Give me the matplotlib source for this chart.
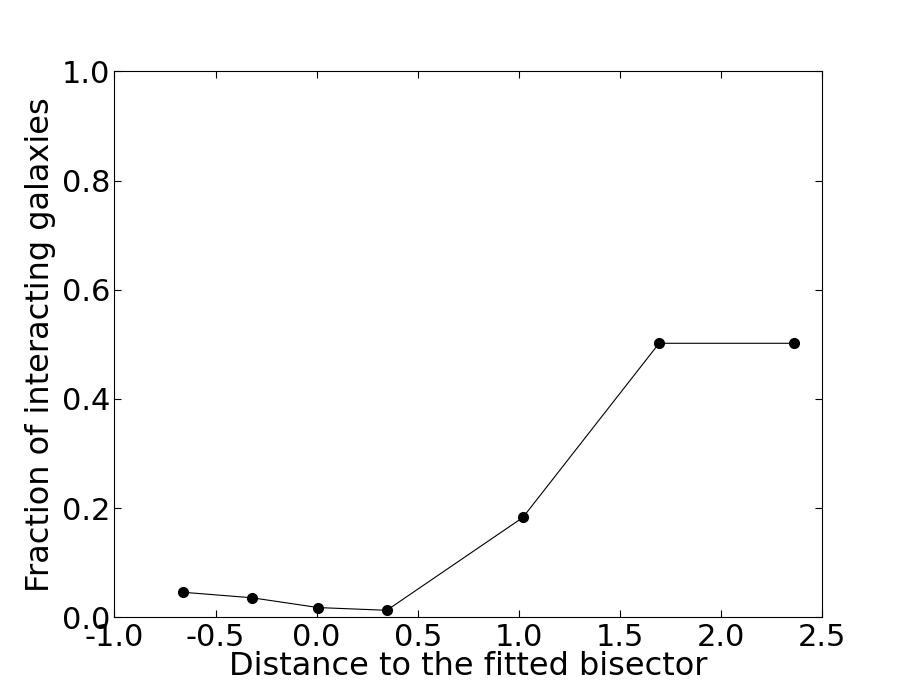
import matplotlib
matplotlib.use("Agg")
import matplotlib.pyplot as plt

distance = [-0.660, -0.321, 0.008, 0.347, 1.020, 1.694, 2.362]
fraction = [0.046, 0.036, 0.018, 0.013, 0.183, 0.502, 0.502]
xticks = [-1.0, -0.5, 0.0, 0.5, 1.0, 1.5, 2.0, 2.5]
yticks = [0.0, 0.2, 0.4, 0.6, 0.8, 1.0]

fig = plt.figure(figsize=(9.13, 6.86), dpi=100)
ax = fig.add_axes([0.1254, 0.1, 0.775, 0.796])
ax.plot(distance, fraction, color="black", linewidth=0.8, marker="o",
        markersize=7, markerfacecolor="black", markeredgecolor="black")
ax.set_xlim(-1.0, 2.5)
ax.set_ylim(0.0, 1.0)
ax.set_xticks(xticks)
ax.set_yticks(yticks)
ax.set_xticklabels([f"{v:.1f}" for v in xticks])
ax.set_yticklabels([f"{v:.1f}" for v in yticks])
ax.tick_params(direction="in", length=5, width=0.8, top=True, right=True,
               labelsize=22)
ax.tick_params(axis="x", pad=4)
ax.tick_params(axis="y", pad=3)
ax.set_xlabel("Distance to the fitted bisector", fontsize=23, labelpad=-1)
ax.set_ylabel("Fraction of interacting galaxies", fontsize=23, labelpad=4)
for s in ax.spines.values():
    s.set_linewidth(0.8)
fig.savefig("out.png", dpi=100)
